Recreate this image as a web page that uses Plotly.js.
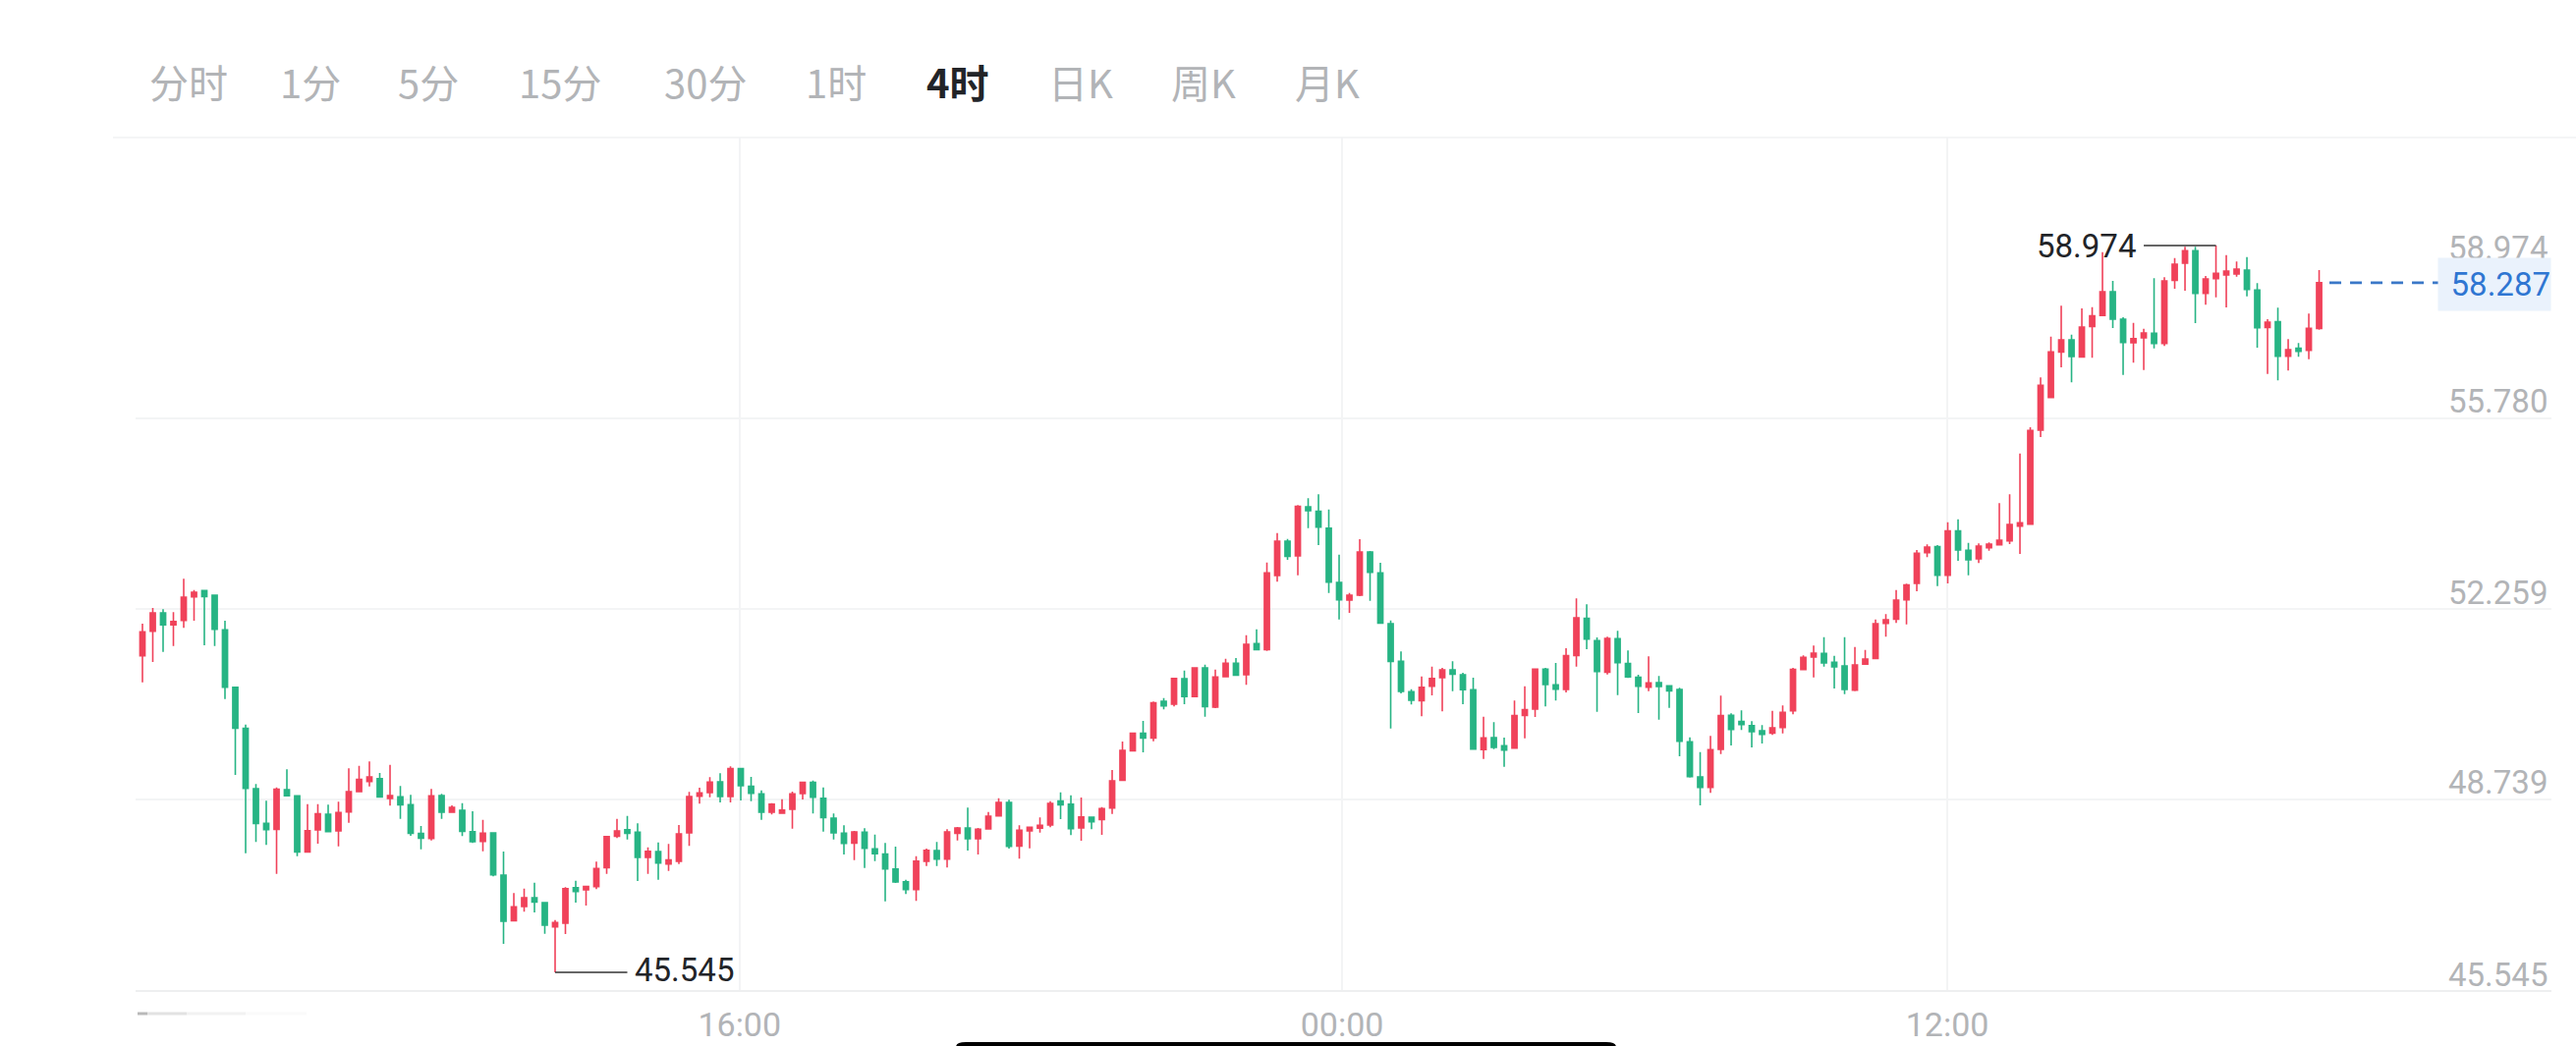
<!DOCTYPE html>
<html><head><meta charset="utf-8">
<script src="https://cdn.plot.ly/plotly-3.0.1.min.js"></script>
<style>html,body{margin:0;padding:0;background:#fff}#c{width:2622px;height:1065px}</style>
</head><body><div id="c"></div>
<script>
const tabs = ["分时","1分","5分","15分","30分","1时","4时","日K","周K","月K"];
const activeTab = "4时";
const priceLabels = [58.974,55.780,52.259,48.739,45.545];
const gridPrices = [55.780,52.259,48.739];
const timeLabels = ["16:00","00:00","12:00"];
const timeIndex = [58.88,117.29,175.95];
const lastPrice = 58.287;
const highPrice = 58.974;
const lowPrice = 45.545;
const highIndex = 202;
const lowIndex = 41;

const high = [51.787,51.987,52.277,52.253,52.198,52.816,52.610,52.598,52.513,52.041,
50.813,50.123,49.022,48.714,48.962,49.295,48.817,48.653,48.653,48.641,
48.696,49.313,49.361,49.440,49.228,49.379,48.986,48.823,48.248,48.932,
48.841,48.629,48.671,48.520,48.363,48.127,47.776,47.008,47.092,47.201,
46.844,46.511,47.116,47.237,47.135,47.588,48.054,48.381,48.435,48.296,
47.855,47.945,47.915,48.266,48.877,48.956,49.149,49.222,49.349,49.319,
49.155,48.907,48.671,48.744,48.883,49.071,49.089,48.962,48.478,48.260,
48.157,48.206,48.091,47.933,47.867,47.256,47.691,47.830,47.951,48.187,
48.230,48.587,48.212,48.508,48.762,48.732,48.260,48.236,48.405,48.708,
48.871,48.817,48.774,48.417,48.599,49.282,49.809,49.978,50.190,50.547,
50.613,50.976,51.122,51.182,51.230,51.140,51.339,51.352,51.775,51.884,
53.118,53.663,53.554,54.177,54.304,54.376,54.098,53.263,52.555,53.548,
53.330,53.112,52.047,51.473,50.777,51.013,51.194,51.170,51.291,51.079,
50.989,50.269,50.166,49.881,50.565,50.831,51.146,51.170,51.261,51.533,
52.453,52.344,51.733,51.745,51.854,51.491,51.043,51.382,51.019,50.843,
50.801,49.887,49.615,49.912,50.656,50.329,50.384,50.184,50.111,50.377,
50.474,51.170,51.400,51.581,51.739,51.394,51.739,51.557,51.503,52.065,
52.162,52.610,52.725,53.348,53.451,53.439,53.862,53.917,53.481,53.469,
53.487,54.213,54.377,55.133,55.617,56.536,57.293,57.861,57.329,57.813,
57.837,58.854,58.321,57.649,57.547,57.438,58.369,58.388,58.745,58.950,
58.950,58.412,58.974,58.799,58.678,58.763,58.279,57.613,57.825,57.244,
57.172,57.716,58.521];

const low = [51.702,50.904,51.279,51.466,51.575,51.908,52.041,51.587,51.575,50.595,
49.192,47.746,47.951,47.897,47.365,48.805,47.691,47.770,47.921,48.133,
47.873,48.308,48.883,48.980,48.774,48.623,48.381,48.066,47.818,47.982,
48.381,48.490,48.060,47.933,47.782,47.316,46.070,46.493,46.663,46.651,
46.257,45.545,46.251,46.832,46.778,47.080,47.364,48.024,48.000,47.231,
47.364,47.256,47.419,47.546,47.879,48.659,48.780,48.683,48.683,48.720,
48.708,48.363,48.460,48.478,48.199,48.738,48.478,48.145,48.000,47.721,
47.619,47.473,47.600,46.856,47.195,46.989,46.862,47.510,47.510,47.479,
47.982,47.794,47.721,48.187,48.423,47.830,47.643,47.836,48.127,48.224,
48.375,48.078,47.976,48.187,48.085,48.472,49.095,49.639,49.609,49.815,
50.402,50.456,50.498,50.632,50.269,50.426,51.007,51.025,50.855,51.491,
51.485,52.761,53.167,52.882,53.753,53.439,52.555,52.065,52.186,52.495,
52.410,51.999,50.051,50.698,50.492,50.275,50.662,50.365,50.740,50.498,
49.664,49.488,49.670,49.343,49.688,49.869,50.263,50.456,50.565,50.716,
51.194,51.515,50.359,51.049,50.668,50.982,50.335,50.740,50.214,50.432,
49.537,49.143,48.629,48.859,49.579,49.736,50.021,49.700,49.772,49.930,
49.960,50.311,51.140,50.995,51.194,50.789,50.686,50.740,51.237,51.339,
51.745,51.999,51.975,52.586,53.215,52.683,52.731,53.148,52.882,53.106,
53.336,53.439,53.457,53.275,53.814,55.435,56.161,56.724,56.446,56.899,
56.899,57.668,57.450,56.585,56.809,56.676,57.075,57.117,58.176,58.140,
57.541,57.879,58.019,57.831,58.400,58.037,57.087,56.603,56.482,56.663,
56.917,56.875,57.420];

const open = [51.708,51.394,51.848,52.186,51.963,52.047,52.483,52.598,52.513,51.872,
50.813,50.051,48.938,48.296,48.187,48.919,48.805,47.770,48.175,48.466,
48.157,48.508,48.883,49.071,49.125,48.756,48.786,48.641,48.109,48.018,
48.810,48.502,48.538,48.145,47.963,48.121,47.340,46.499,46.760,46.923,
46.832,46.384,46.451,47.110,47.068,47.129,47.479,48.060,48.181,48.133,
47.667,47.776,47.546,47.594,48.121,48.798,48.865,49.065,48.792,49.307,
48.980,48.841,48.502,48.484,48.556,48.847,49.053,48.762,48.393,48.115,
47.933,48.133,47.824,47.728,47.455,47.219,47.074,47.594,47.794,47.637,
48.115,48.212,48.012,48.193,48.435,48.683,47.879,48.157,48.206,48.266,
48.708,48.653,48.211,48.411,48.369,48.581,49.095,49.639,49.960,49.875,
50.553,50.498,50.970,50.638,51.170,50.444,51.007,51.255,51.043,51.618,
51.509,52.876,53.511,53.239,54.147,54.062,53.753,52.749,52.422,52.513,
53.312,52.925,51.987,51.291,50.728,50.565,50.831,50.989,51.134,51.043,
50.765,49.658,49.881,49.730,49.688,50.293,50.408,51.146,50.855,50.771,
51.400,52.084,51.672,51.091,51.708,51.249,50.995,50.813,50.898,50.837,
50.771,49.803,49.155,48.962,49.664,50.293,50.178,50.105,50.008,49.966,
50.069,50.377,51.140,51.370,51.436,51.273,51.206,50.759,51.237,51.345,
51.993,52.071,52.428,52.731,53.300,53.409,52.882,53.699,53.342,53.185,
53.390,53.445,53.517,53.790,53.826,55.562,56.167,57.008,57.232,56.917,
57.480,57.680,58.121,57.613,57.178,57.268,57.353,57.166,58.333,58.648,
58.878,58.091,58.363,58.430,58.448,58.521,58.152,57.462,57.565,56.930,
57.075,57.038,57.444];

const close = [51.775,51.836,52.186,51.963,52.029,52.477,52.568,52.489,51.884,50.813,
50.057,48.944,48.296,48.181,48.926,48.805,47.770,48.163,48.472,48.145,
48.496,48.883,49.107,49.155,48.786,48.810,48.641,48.115,48.024,48.805,
48.502,48.593,48.151,47.957,48.115,47.346,46.487,46.754,46.923,46.844,
46.415,46.463,47.092,47.038,47.129,47.461,48.054,48.157,48.115,47.667,
47.782,47.564,47.619,48.103,48.792,48.859,49.059,48.792,49.307,48.992,
48.853,48.502,48.653,48.544,48.841,49.053,48.780,48.405,48.121,47.927,
48.139,47.836,47.734,47.455,47.213,47.074,47.600,47.800,47.637,48.139,
48.212,48.012,48.187,48.429,48.683,47.873,48.169,48.224,48.260,48.665,
48.641,48.199,48.417,48.327,48.569,49.083,49.645,49.960,49.875,50.523,
50.468,50.976,50.638,51.170,50.456,51.001,51.255,51.037,51.606,51.509,
52.925,53.511,53.233,54.153,54.074,53.772,52.755,52.428,52.513,53.312,
52.937,51.999,51.291,50.734,50.571,50.813,50.976,51.134,51.055,50.765,
49.670,49.875,49.700,49.651,50.287,50.396,51.146,50.861,50.777,51.394,
52.096,51.702,51.103,51.714,51.267,51.001,50.831,50.892,50.825,50.746,
49.815,49.161,48.962,49.658,50.287,50.033,50.123,49.990,49.942,50.063,
50.347,51.140,51.364,51.442,51.261,51.188,50.771,51.224,51.333,51.987,
52.059,52.422,52.701,53.288,53.402,52.882,53.699,53.348,53.167,53.421,
53.457,53.530,53.820,53.850,55.556,56.391,57.008,57.232,56.923,57.468,
57.674,58.121,57.613,57.184,57.256,57.359,57.166,58.321,58.630,58.878,
58.091,58.357,58.460,58.503,58.539,58.164,57.456,57.559,56.930,57.051,
57.020,57.444,58.287];

const index = close.map((_, i) => i);

// layout helpers: screen pixel -> paper fraction
const L = 138, R = 2597, T = 140, B = 1008, W = 2622, H = 1065;
const px = x => (x - L) / (R - L);
const py = y => (B - y) / (B - T);

const FONT = 'Roboto, "Noto Sans CJK SC", sans-serif';
const GREY = '#b2b4b7', INK = '#222428', BLUE = '#2f76d2', GRID = '#f3f4f5';
const RED = '#f0425a', GREEN = '#27b484';

const tabCenters = [192,316,436,570,718,851,975,1100,1225,1351];
const annotations = tabs.map((t, i) => ({
  text: t === activeTab ? '<b>' + t + '</b>' : t,
  xref: 'paper', yref: 'paper', x: px(tabCenters[i]), y: py(83),
  xanchor: 'center', yanchor: 'middle', showarrow: false,
  font: {family: '"Noto Sans CJK SC", sans-serif', size: 40, color: t === activeTab ? INK : GREY}
}));

const labelShift = [-2, 18, 17, 17, -3];
priceLabels.forEach((p, i) => annotations.push({
  text: p.toFixed(3), xref: 'paper', yref: 'y', x: 1, y: p, xshift: -3, yshift: labelShift[i],
  xanchor: 'right', yanchor: 'middle', showarrow: false, borderpad: 0,
  font: {family: FONT, size: 33, color: GREY}
}));
annotations.push({
  text: highPrice.toFixed(3), xref: 'x', yref: 'y', x: highIndex, y: highPrice,
  xshift: -81, xanchor: 'right', yanchor: 'middle', showarrow: false, borderpad: 0,
  font: {family: FONT, size: 33, color: INK}
});
annotations.push({
  text: lowPrice.toFixed(3), xref: 'x', yref: 'y', x: lowIndex, y: lowPrice,
  xshift: 80, yshift: 2, xanchor: 'left', yanchor: 'middle', showarrow: false, borderpad: 0,
  font: {family: FONT, size: 33, color: INK}
});
annotations.push({
  text: lastPrice.toFixed(3), xref: 'paper', yref: 'y', x: 1, y: lastPrice, yshift: -2,
  xanchor: 'right', yanchor: 'middle', showarrow: false, borderpad: 0,
  width: 114, height: 53, align: 'right', valign: 'middle', bgcolor: '#eaf2fc',
  font: {family: FONT, size: 33, color: BLUE}
});

const lastIdx = close.length - 1;
const barPath = 'M ' + px(973) + ',' + py(1066) + ' Q ' + px(973) + ',' + py(1061) + ' ' + px(983) + ',' + py(1061) +
  ' L ' + px(1635) + ',' + py(1061) + ' Q ' + px(1645) + ',' + py(1061) + ' ' + px(1645) + ',' + py(1066) + ' Z';
const smudge = [[140,150,'#b9b9b9'],[150,190,'#e2e2e2'],[190,250,'#f2f2f2'],[250,312,'#fafafa']];
const shapes = [
  {type:'line', xref:'paper', yref:'paper', x0:px(115), x1:px(2622), y0:1, y1:1, line:{color:'#f1f2f3', width:1.5}},
  {type:'line', xref:'x', yref:'y', x0:highIndex-7, x1:highIndex, y0:highPrice, y1:highPrice, line:{color:'#333', width:1.5}},
  {type:'line', xref:'x', yref:'y', x0:lowIndex, x1:lowIndex+7, y0:lowPrice, y1:lowPrice, line:{color:'#333', width:1.5}},
  {type:'line', xref:'x', yref:'y', x0:lastIdx+1, x1:lastIdx+11.6, y0:lastPrice, y1:lastPrice, line:{color:'#3b78c8', width:2.6, dash:'12px,9px'}},
  {type:'path', xref:'paper', yref:'paper', path:barPath, fillcolor:'#000', line:{width:0}}
].concat(smudge.map(s => ({type:'line', xref:'paper', yref:'paper', x0:px(s[0]), x1:px(s[1]), y0:py(1032), y1:py(1032), line:{color:s[2], width:3}})));

const trace = {
  type: 'candlestick', x: index, open, high, low, close,
  width: 0.76, whiskerwidth: 0, hoverinfo: 'skip', showlegend: false,
  increasing: {line: {color: RED, width: 1.6}, fillcolor: RED},
  decreasing: {line: {color: GREEN, width: 1.6}, fillcolor: GREEN}
};

const layout = {
  width: W, height: H, autosize: false,
  margin: {l: L, r: W - R, t: T, b: H - B, pad: 0},
  paper_bgcolor: '#fff', plot_bgcolor: '#fff', showlegend: false,
  font: {family: FONT, color: GREY},
  xaxis: {
    type: 'linear', range: [0.333, 234.52], rangeslider: {visible: false},
    tickmode: 'array', tickvals: timeIndex, ticktext: timeLabels,
    showgrid: true, gridcolor: GRID, gridwidth: 1.5, zeroline: false,
    showline: true, linecolor: '#eeeff0', linewidth: 1.5,
    ticks: 'outside', ticklen: 5, tickcolor: 'rgba(0,0,0,0)',
    tickfont: {family: FONT, size: 34, color: GREY}
  },
  yaxis: {
    type: 'linear', range: [45.217, 60.971],
    tickmode: 'array', tickvals: gridPrices, showticklabels: false,
    showgrid: true, gridcolor: GRID, gridwidth: 1.5, zeroline: false,
    showline: false, ticks: ''
  },
  annotations, shapes
};
Plotly.newPlot('c', [trace], layout, {staticPlot: true, displayModeBar: false});
</script></body></html>
